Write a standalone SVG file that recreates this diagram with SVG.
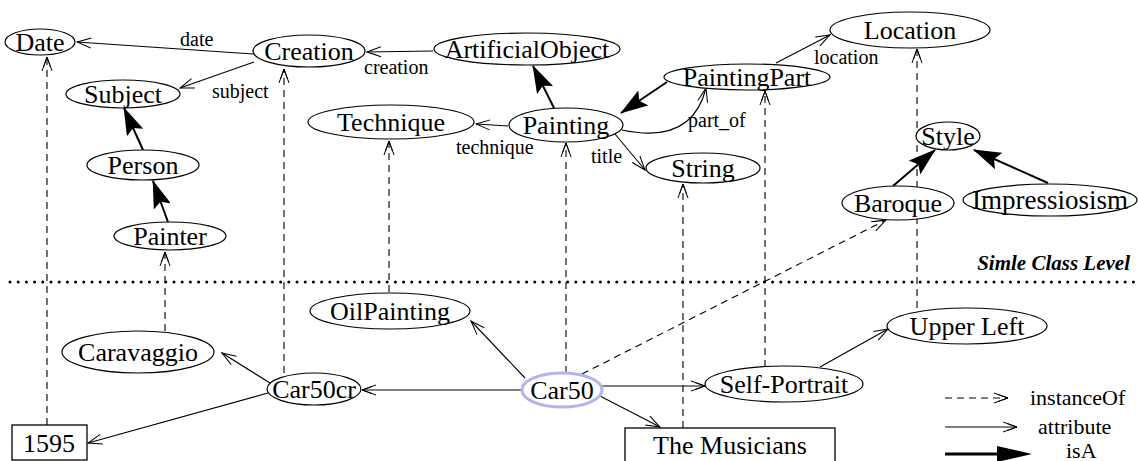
<svg xmlns="http://www.w3.org/2000/svg" width="1138" height="461" viewBox="0 0 1138 461">
<defs>
<marker id="att" markerWidth="16" markerHeight="12" refX="15" refY="6" orient="auto" markerUnits="userSpaceOnUse"><path d="M1,1 L15,6 L1,11 M5,2.5 L15,6 L5,9.5" fill="none" stroke="#000" stroke-width="1"/></marker>
<marker id="isa" markerWidth="28" markerHeight="18" refX="27" refY="9" orient="auto" markerUnits="userSpaceOnUse"><path d="M0,0 L28,9 L0,18 L5,9 Z" fill="#000"/></marker>
</defs>
<style>
text{font-family:"Liberation Serif","DejaVu Serif","Times New Roman",serif}
.n ellipse{fill:#fff;stroke:#000;stroke-width:1.2}
.n rect{fill:#fff;stroke:#000;stroke-width:1.3}
.n text{font-size:26px;fill:#000;text-anchor:middle}
.at{fill:none;stroke:#000;stroke-width:1.1;marker-end:url(#att)}
.io{fill:none;stroke:#000;stroke-width:1.1;stroke-dasharray:7,5;marker-end:url(#att)}
.is{fill:none;stroke:#000;stroke-width:2;marker-end:url(#isa)}
.lb{font-size:20px;fill:#000}
.lg{font-size:22px;fill:#000}
.ti{font-size:21px;font-weight:bold;font-style:italic;text-anchor:end}
</style>
<rect width="1138" height="461" fill="#fff"/>
<line x1="10" y1="282" x2="1138" y2="282" stroke="#000" stroke-width="3" stroke-dasharray="0,8.2" stroke-linecap="round"/>
<text class="ti" x="1130" y="270">Simle Class Level</text>
<g id="connectors">
<line class="io" x1="47" y1="425" x2="47" y2="57"/>
<line class="io" x1="165" y1="331" x2="165" y2="252"/>
<line class="io" x1="284" y1="373" x2="284" y2="69"/>
<line class="io" x1="389" y1="292" x2="389" y2="141"/>
<line class="io" x1="566" y1="373" x2="566" y2="143"/>
<line class="io" x1="683" y1="428" x2="683" y2="184"/>
<line class="io" x1="765" y1="367" x2="765" y2="91"/>
<line class="io" x1="917" y1="308" x2="917" y2="49"/>
<line class="io" x1="582" y1="374" x2="886" y2="220"/>
<line class="at" x1="253" y1="54" x2="77" y2="42"/>
<line class="at" x1="254" y1="62" x2="180" y2="88"/>
<line class="at" x1="433" y1="51" x2="367" y2="52"/>
<line class="at" x1="508" y1="126" x2="476" y2="124"/>
<line class="at" x1="615" y1="134" x2="645" y2="170"/>
<path class="at" d="M622,130 Q692,145 706,88"/>
<line class="at" x1="776" y1="63" x2="830" y2="35"/>
<line class="at" x1="522" y1="390" x2="362" y2="390"/>
<line class="at" x1="525" y1="378" x2="471" y2="321"/>
<line class="at" x1="602" y1="386" x2="705" y2="386"/>
<line class="at" x1="600" y1="396" x2="660" y2="427"/>
<line class="at" x1="270" y1="383" x2="222" y2="353"/>
<line class="at" x1="268" y1="393" x2="88" y2="443"/>
<line class="at" x1="820" y1="367" x2="888" y2="329"/>
<line class="is" x1="554" y1="108" x2="533" y2="66"/>
<line class="is" x1="667" y1="82" x2="621" y2="113"/>
<line class="is" x1="143" y1="150" x2="124" y2="108"/>
<line class="is" x1="168" y1="222" x2="153" y2="181"/>
<line class="is" x1="893" y1="186" x2="935" y2="150"/>
<line class="is" x1="1048" y1="183" x2="974" y2="150"/>
<text class="lb" x="180" y="46">date</text>
<text class="lb" x="212" y="98">subject</text>
<text class="lb" x="364" y="74">creation</text>
<text class="lb" x="456" y="154">technique</text>
<text class="lb" x="591" y="163">title</text>
<text class="lb" x="688" y="127">part_of</text>
<text class="lb" x="814" y="64">location</text>
</g>
<g id="n-date" class="n"><ellipse cx="40" cy="42" rx="35" ry="13"/><text x="40" y="51">Date</text></g>
<g id="n-creation" class="n"><ellipse cx="309" cy="51" rx="56" ry="16"/><text x="309" y="60">Creation</text></g>
<g id="n-subject" class="n"><ellipse cx="123" cy="94" rx="57" ry="14"/><text x="123" y="103">Subject</text></g>
<g id="n-person" class="n"><ellipse cx="143" cy="165" rx="56" ry="15"/><text x="143" y="174">Person</text></g>
<g id="n-painter" class="n"><ellipse cx="170" cy="236" rx="56" ry="14"/><text x="170" y="245">Painter</text></g>
<g id="n-artificialobject" class="n"><ellipse cx="527" cy="49" rx="93" ry="16"/><text x="527" y="58">ArtificialObject</text></g>
<g id="n-technique" class="n"><ellipse cx="391" cy="122" rx="83" ry="17"/><text x="391" y="131">Technique</text></g>
<g id="n-painting" class="n"><ellipse cx="566" cy="125" rx="57" ry="17"/><text x="566" y="134">Painting</text></g>
<g id="n-string" class="n"><ellipse cx="703" cy="168" rx="57" ry="15"/><text x="703" y="177">String</text></g>
<g id="n-paintingpart" class="n"><ellipse cx="747" cy="77" rx="83" ry="13"/><text x="747" y="86">PaintingPart</text></g>
<g id="n-location" class="n"><ellipse cx="910" cy="30" rx="80" ry="18"/><text x="910" y="39">Location</text></g>
<g id="n-style" class="n"><ellipse cx="948" cy="136" rx="32" ry="14"/><text x="948" y="145">Style</text></g>
<g id="n-baroque" class="n"><ellipse cx="898" cy="203" rx="56" ry="17"/><text x="898" y="212">Baroque</text></g>
<g id="n-impressiosism" class="n"><ellipse cx="1050" cy="200" rx="87" ry="16"/><text x="1050" y="209" style="font-size:27px">Impressiosism</text></g>
<g id="n-oilpainting" class="n"><ellipse cx="390" cy="311" rx="80" ry="18"/><text x="390" y="320">OilPainting</text></g>
<g id="n-caravaggio" class="n"><ellipse cx="138" cy="352" rx="76" ry="21"/><text x="138" y="361">Caravaggio</text></g>
<g id="n-car50cr" class="n"><ellipse cx="314" cy="389" rx="47" ry="16"/><text x="314" y="398">Car50cr</text></g>
<g id="n-1595" class="n"><rect x="12" y="425" width="75" height="35"/><text x="49" y="452">1595</text></g>
<g id="n-car50" class="n"><ellipse cx="562" cy="390" rx="40" ry="17" style="stroke:#b4b4ec;stroke-width:3"/><text x="562" y="399">Car50</text></g>
<g id="n-musicians" class="n"><rect x="625" y="428" width="210" height="40"/><text x="730" y="454">The Musicians</text></g>
<g id="n-selfportrait" class="n"><ellipse cx="784" cy="384" rx="79" ry="18"/><text x="784" y="393">Self-Portrait</text></g>
<g id="n-upperleft" class="n"><ellipse cx="967" cy="326" rx="80" ry="18"/><text x="967" y="335">Upper Left</text></g>
<g id="legend">
<line class="io" x1="945" y1="398" x2="1008" y2="398"/>
<text class="lg" x="1030" y="405">instanceOf</text>
<line class="at" x1="945" y1="427" x2="1017" y2="427"/>
<text class="lg" x="1038" y="434">attribute</text>
<line x1="945" y1="454" x2="1000" y2="454" stroke="#000" stroke-width="3"/>
<path d="M997,446 L1032,454 L997,462 Z" fill="#000"/>
<text class="lg" x="1066" y="458">isA</text>
</g>
</svg>
